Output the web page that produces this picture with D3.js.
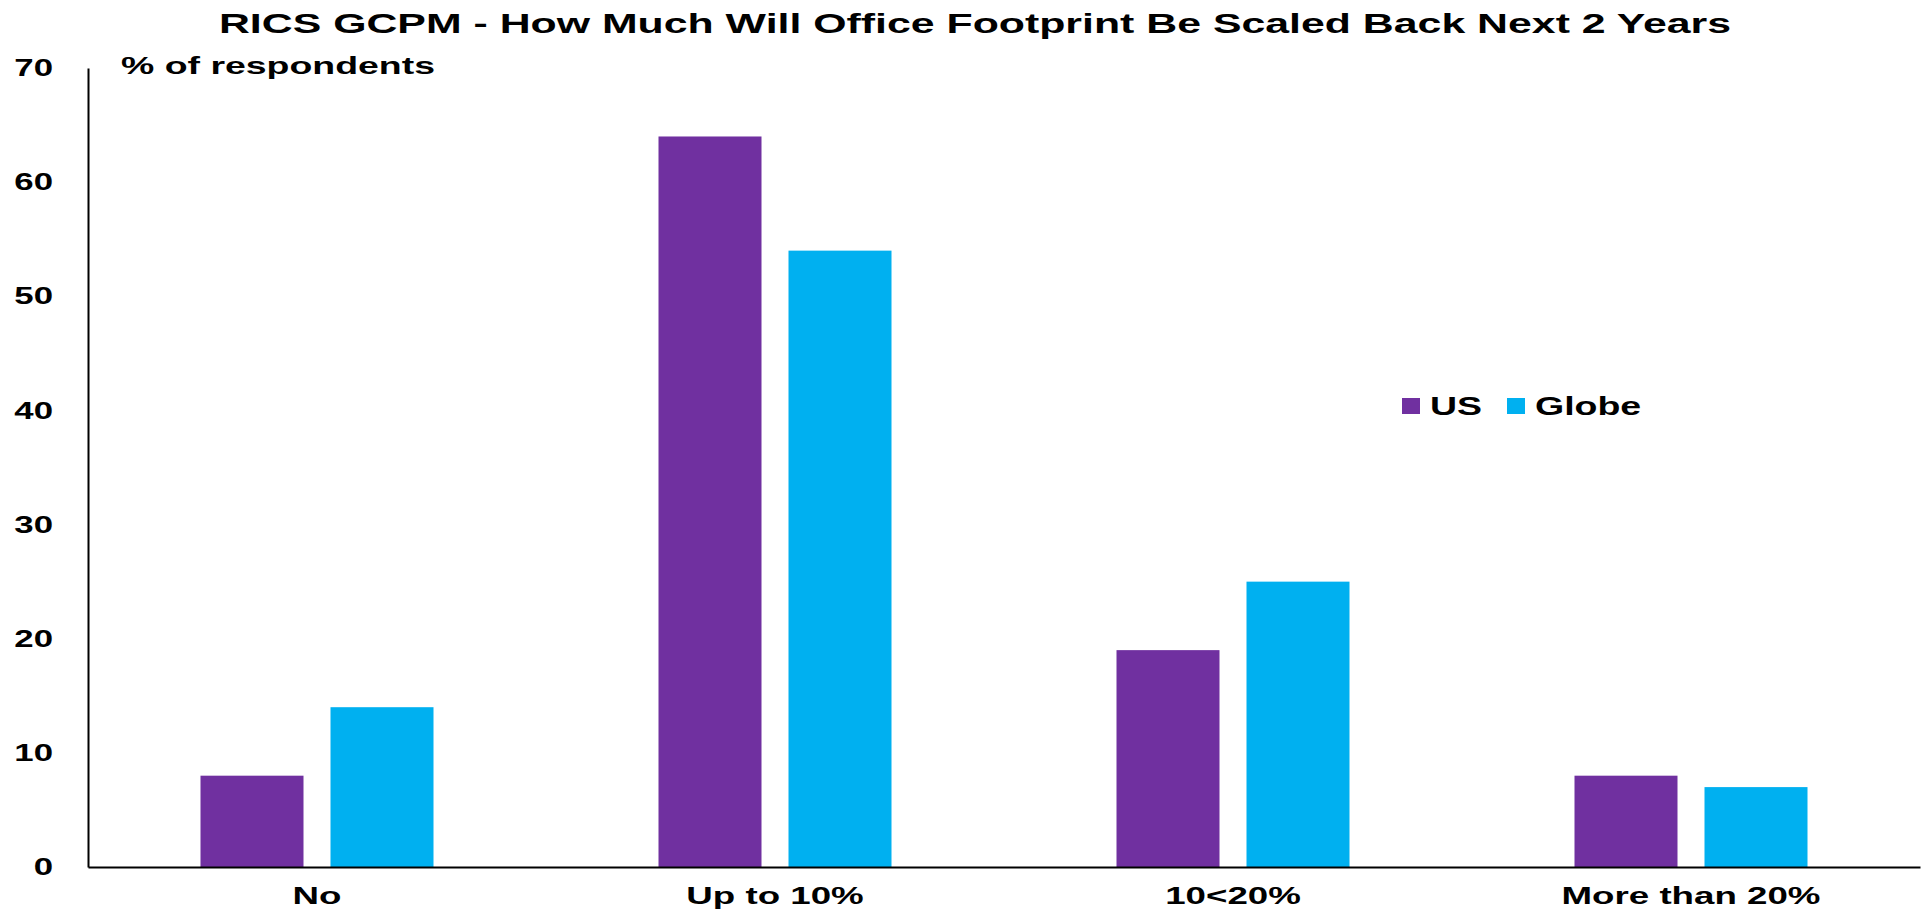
<!DOCTYPE html>
<html>
<head>
<meta charset="utf-8">
<script src="https://cdn.jsdelivr.net/npm/d3@7"></script>
<style>
  html, body { margin: 0; padding: 0; background: #fff; }
  svg { display: block; font-family: "Liberation Sans", Arial, sans-serif; font-weight: bold; }
</style>
</head>
<body>
<svg id="chart" width="1927" height="915"></svg>
<script>
const categories = ["No", "Up to 10%", "10<20%", "More than 20%"];
const seriesNames = ["US", "Globe"];
const usValues = [8, 64, 19, 8];
const globeValues = [14, 54, 25, 7];
const yTicks = [0, 10, 20, 30, 40, 50, 60, 70];
const colors = ["#7030A0", "#00B0F0"];
const title = "RICS GCPM - How Much Will Office Footprint Be Scaled Back Next 2 Years";
const yTitle = "% of respondents";

const svg = d3.select("#chart");
const W = 1927, H = 915;
const m = { left: 88, right: 7, top: 68, bottom: 48 };
const x0 = m.left, x1 = W - m.right, yTop = m.top, yBot = H - m.bottom;
const SX = 1.53, SXT = 1.45;

// stretch text horizontally around its anchor
function stretch(sel, sx) {
  sel.each(function () {
    const t = d3.select(this);
    const xv = +(t.attr("x") || 0);
    t.attr("x", xv / sx).attr("transform", `scale(${sx},1)`);
  });
}

const x = d3.scaleBand().domain(categories).range([x0, x1]).paddingInner(0).paddingOuter(0);
const y = d3.scaleLinear().domain([0, 70]).range([yBot, yTop]);

const barW = 103, gap = 27;
const data = categories.map((c, i) => ({ c, vals: [usValues[i], globeValues[i]] }));

const g = svg.append("g");
data.forEach(d => {
  const cx = x(d.c) + x.bandwidth() / 2;
  d.vals.forEach((v, j) => {
    const bx = j === 0 ? cx - gap / 2 - barW : cx + gap / 2;
    g.append("rect")
      .attr("x", bx).attr("width", barW)
      .attr("y", y(v)).attr("height", y(0) - y(v))
      .attr("fill", colors[j]);
  });
});

// Y axis
const yAxis = d3.axisLeft(y).tickValues(yTicks).tickSize(0).tickPadding(35).tickFormat(d3.format("d"));
const ya = svg.append("g").attr("transform", `translate(${x0},0)`).call(yAxis);
ya.select(".domain").attr("stroke", "#000").attr("stroke-width", 2);
ya.selectAll("text").attr("font-size", 24).attr("font-weight", "bold").attr("fill", "#000")
  .attr("font-family", "Liberation Sans, Arial, sans-serif");
stretch(ya.selectAll("text"), SXT);

// X axis
const xAxis = d3.axisBottom(x).tickSize(0).tickPadding(20);
const xa = svg.append("g").attr("transform", `translate(0,${yBot})`).call(xAxis);
xa.select(".domain").attr("stroke", "#000").attr("stroke-width", 2);
xa.selectAll("text").attr("font-size", 24).attr("font-weight", "bold").attr("fill", "#000")
  .attr("font-family", "Liberation Sans, Arial, sans-serif");
stretch(xa.selectAll("text"), SX);

// Title
const tt = svg.append("text").attr("x", 975).attr("y", 33).attr("text-anchor", "middle")
  .attr("font-size", 28).attr("fill", "#000").text(title);
stretch(tt, SX);

// y-axis title
const yt = svg.append("text").attr("x", 121).attr("y", 74).attr("font-size", 24).attr("fill", "#000").text(yTitle);
stretch(yt, 1.56);

// Legend
const legX = [1402, 1507];
seriesNames.forEach((s, j) => {
  svg.append("rect").attr("x", legX[j]).attr("y", 398).attr("width", 18).attr("height", 16).attr("fill", colors[j]);
  const lt = svg.append("text").attr("x", legX[j] + 28).attr("y", 415).attr("font-size", 25).attr("fill", "#000").text(s);
  stretch(lt, 1.5);
});
</script>
</body>
</html>
